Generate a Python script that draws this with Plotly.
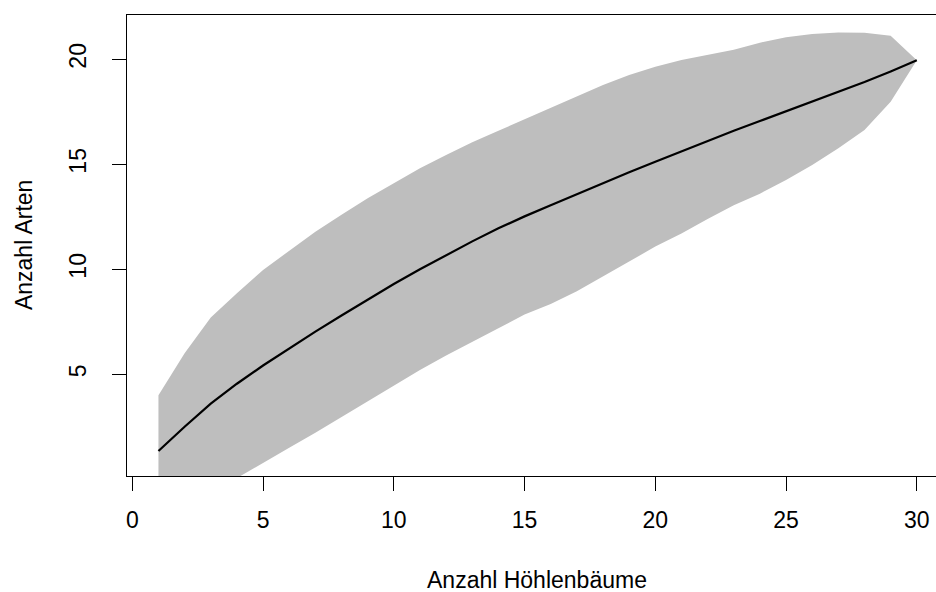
import plotly.graph_objects as go

# Anzahl Höhlenbäume (sites)
sites = list(range(1, 31))
# mean species richness
richness = [1.35, 2.5, 3.6, 4.55, 5.42, 6.24, 7.03, 7.8, 8.55, 9.3,
            10.0, 10.68, 11.33, 11.95, 12.52, 13.05, 13.58, 14.1, 14.62, 15.12,
            15.62, 16.12, 16.6, 17.06, 17.52, 17.98, 18.45, 18.92, 19.42, 19.95]
# upper bound of band
upper = [4.0, 6.0, 7.7, 8.86, 9.97, 10.9, 11.79, 12.6, 13.38, 14.1,
         14.81, 15.44, 16.05, 16.6, 17.15, 17.7, 18.25, 18.78, 19.25, 19.65,
         19.97, 20.22, 20.45, 20.79, 21.05, 21.2, 21.28, 21.27, 21.12, 19.95]
# lower bound of band
lower = [-1.4, -1.0, -0.5, 0.06, 0.78, 1.5, 2.22, 2.95, 3.7, 4.45,
         5.2, 5.9, 6.55, 7.19, 7.85, 8.35, 8.95, 9.65, 10.36, 11.08,
         11.71, 12.4, 13.05, 13.6, 14.25, 14.97, 15.76, 16.63, 17.98, 19.95]

x_ticks = [0, 5, 10, 15, 20, 25, 30]
y_ticks = [5, 10, 15, 20]

FONT = "Liberation Sans, Arial, sans-serif"

fig = go.Figure()
fig.add_trace(go.Scatter(
    x=sites + sites[::-1],
    y=upper + lower[::-1],
    fill="toself", fillcolor="#BEBEBE",
    line=dict(width=0), mode="lines", hoverinfo="skip", showlegend=False))
fig.add_trace(go.Scatter(
    x=sites, y=richness, mode="lines",
    line=dict(color="black", width=2.2), showlegend=False))

fig.update_layout(
    width=936, height=592,
    margin=dict(l=127, r=0, t=15, b=116),
    paper_bgcolor="white", plot_bgcolor="white",
    font=dict(family=FONT, size=23, color="black"),
    xaxis=dict(range=[-0.203, 30.734], tickvals=x_ticks, ticks="outside",
               ticklen=14, tickwidth=1, tickcolor="black",
               showline=True, linecolor="black", linewidth=1, mirror=True,
               showgrid=False, zeroline=False, ticklabelstandoff=9,
               tickfont=dict(size=23, family=FONT, color="black")),
    yaxis=dict(range=[0.157, 22.11], tickvals=y_ticks, ticks="outside",
               ticklen=14, tickwidth=1, tickcolor="black", tickangle=-90,
               showline=True, linecolor="black", linewidth=1, mirror=False,
               showgrid=False, zeroline=False, ticklabelstandoff=17,
               tickfont=dict(size=23, family=FONT, color="black")),
    annotations=[
        dict(text="Anzahl Höhlenbäume", xref="paper", yref="paper",
             x=0.5068, y=-0.2256, xanchor="center", yanchor="middle",
             showarrow=False, font=dict(size=23, family=FONT, color="black")),
        dict(text="Anzahl Arten", xref="paper", yref="paper",
             x=-0.1273, y=0.501, xanchor="center", yanchor="middle",
             textangle=-90, showarrow=False,
             font=dict(size=23, family=FONT, color="black")),
    ],
)

fig.write_html("out.html")
